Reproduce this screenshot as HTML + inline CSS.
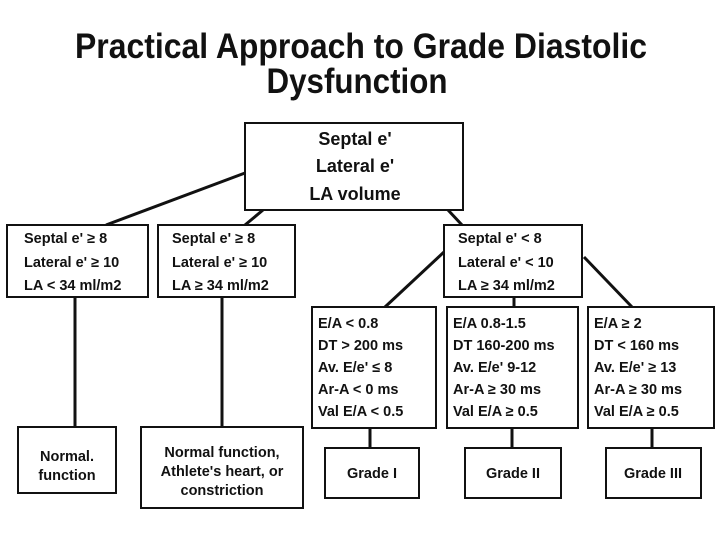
<!DOCTYPE html>
<html><head><meta charset="utf-8"><style>
html,body{margin:0;padding:0;background:#fff;}
svg{display:block;}
text{font-family:"Liberation Sans",Arial,sans-serif;font-weight:bold;fill:#111;}
</style></head><body>
<svg width="720" height="540" viewBox="0 0 720 540" xmlns="http://www.w3.org/2000/svg">
<g>
<text x="361" y="58" font-size="35" text-anchor="middle" textLength="572" lengthAdjust="spacingAndGlyphs">Practical Approach to Grade Diastolic</text>
<text x="357" y="93" font-size="35" text-anchor="middle" textLength="181" lengthAdjust="spacingAndGlyphs">Dysfunction</text>
</g>
<g stroke="#111" stroke-width="3" fill="none">
<line x1="245" y1="173" x2="106" y2="225"/>
<line x1="263" y1="210" x2="245" y2="225"/>
<line x1="448" y1="210" x2="462" y2="225"/>
<line x1="444" y1="252" x2="385" y2="307"/>
<line x1="514" y1="297" x2="514" y2="307"/>
<line x1="584" y1="257" x2="632" y2="307"/>
<line x1="75" y1="297" x2="75" y2="427"/>
<line x1="222" y1="297" x2="222" y2="427"/>
<line x1="370" y1="428" x2="370" y2="448"/>
<line x1="512" y1="428" x2="512" y2="448"/>
<line x1="652" y1="428" x2="652" y2="448"/>
</g>
<g stroke="#111" stroke-width="2" fill="#fff">
<rect x="245" y="123" width="218" height="87"/>
<rect x="7" y="225" width="141" height="72"/>
<rect x="158" y="225" width="137" height="72"/>
<rect x="444" y="225" width="138" height="72"/>
<rect x="312" y="307" width="124" height="121"/>
<rect x="447" y="307" width="131" height="121"/>
<rect x="588" y="307" width="126" height="121"/>
<rect x="325" y="448" width="94" height="50"/>
<rect x="465" y="448" width="96" height="50"/>
<rect x="606" y="448" width="95" height="50"/>
<rect x="18" y="427" width="98" height="66"/>
<rect x="141" y="427" width="162" height="81"/>
</g>
<g font-size="18" text-anchor="middle">
<text x="355" y="145">Septal e'</text>
<text x="355" y="172">Lateral e'</text>
<text x="355" y="200">LA volume</text>
</g>
<g font-size="14.5">
<text x="24" y="243">Septal e' ≥ 8</text>
<text x="24" y="267">Lateral e' ≥ 10</text>
<text x="24" y="290">LA &lt; 34 ml/m2</text>
<text x="172" y="243">Septal e' ≥ 8</text>
<text x="172" y="267">Lateral e' ≥ 10</text>
<text x="172" y="290">LA ≥ 34 ml/m2</text>
<text x="458" y="243">Septal e' &lt; 8</text>
<text x="458" y="267">Lateral e' &lt; 10</text>
<text x="458" y="290">LA ≥ 34 ml/m2</text>

<text x="318" y="328">E/A &lt; 0.8</text>
<text x="318" y="350">DT &gt; 200 ms</text>
<text x="318" y="372">Av. E/e' ≤ 8</text>
<text x="318" y="394">Ar-A &lt; 0 ms</text>
<text x="318" y="416">Val E/A &lt; 0.5</text>

<text x="453" y="328">E/A 0.8-1.5</text>
<text x="453" y="350">DT 160-200 ms</text>
<text x="453" y="372">Av. E/e' 9-12</text>
<text x="453" y="394">Ar-A ≥ 30 ms</text>
<text x="453" y="416">Val E/A ≥ 0.5</text>

<text x="594" y="328">E/A ≥ 2</text>
<text x="594" y="350">DT &lt; 160 ms</text>
<text x="594" y="372">Av. E/e' ≥ 13</text>
<text x="594" y="394">Ar-A ≥ 30 ms</text>
<text x="594" y="416">Val E/A ≥ 0.5</text>
</g>
<g font-size="14.5" text-anchor="middle">
<text x="372" y="478">Grade I</text>
<text x="513" y="478">Grade II</text>
<text x="653" y="478">Grade III</text>
<text x="67" y="461">Normal.</text>
<text x="67" y="480">function</text>
<text x="222" y="457">Normal function,</text>
<text x="222" y="476">Athlete's heart, or</text>
<text x="222" y="495">constriction</text>
</g>
</svg>
</body></html>
